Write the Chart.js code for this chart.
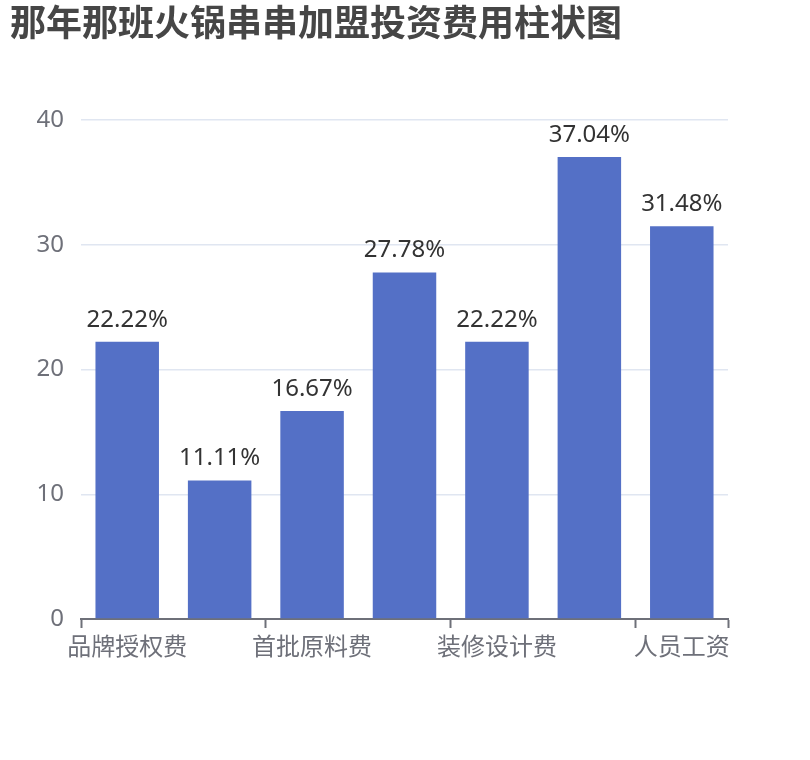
<!DOCTYPE html>
<html>
<head>
<meta charset="utf-8">
<script src="https://cdn.jsdelivr.net/npm/chart.js@4/dist/chart.umd.min.js"></script>
<style>
  html, body { margin: 0; padding: 0; background: #ffffff; }
  #wrap { width: 810px; height: 760px; position: relative; }
</style>
</head>
<body>
<div id="wrap"><canvas id="c" width="810" height="760"></canvas></div>
<script>
// ---- data ----
const chartTitle = '那年那班火锅串串加盟投资费用柱状图';
const categories = ['品牌授权费', '设备采购费', '首批原料费', '店面租金', '装修设计费', '流动资金', '人员工资'];
const values = [22.22, 11.11, 16.67, 27.78, 22.22, 37.04, 31.48];
const yTicks = [0, 10, 20, 30, 40];

const FONT = '"Noto Sans", "Noto Sans CJK SC", sans-serif';
const CJK = '"Noto Sans CJK SC", "Noto Sans", sans-serif';

const titlePlugin = {
  id: 'titleDraw',
  afterDraw(chart) {
    const ctx = chart.ctx;
    ctx.save();
    ctx.font = 'bold 36px ' + CJK;
    ctx.fillStyle = '#464646';
    ctx.textAlign = 'left';
    ctx.textBaseline = 'middle';
    ctx.fillText(chartTitle, 10, 22);
    ctx.restore();
  }
};

const labelPlugin = {
  id: 'barLabels',
  afterDatasetsDraw(chart) {
    const ctx = chart.ctx;
    const meta = chart.getDatasetMeta(0);
    ctx.save();
    ctx.font = '24px ' + FONT;
    ctx.fillStyle = '#333333';
    ctx.textAlign = 'center';
    ctx.textBaseline = 'alphabetic';
    meta.data.forEach((bar, i) => {
      ctx.fillText(values[i].toFixed(2) + '%', bar.x, bar.y - 15);
    });
    ctx.restore();
  }
};

new Chart(document.getElementById('c'), {
  type: 'bar',
  data: {
    labels: categories,
    datasets: [{
      data: values,
      backgroundColor: '#5470c6',
      borderWidth: 0,
      barPercentage: 0.687,
      categoryPercentage: 1.0
    }]
  },
  options: {
    responsive: false,
    devicePixelRatio: 1,
    animation: false,
    layout: { padding: { top: 120, right: 82, bottom: 0, left: 0 } },
    plugins: {
      legend: { display: false },
      tooltip: { enabled: false },
      title: { display: false }
    },
    scales: {
      x: {
        offset: true,
        afterFit(scale) { scale.height = 141; },
        border: { display: true, color: '#6E7079', width: 2 },
        grid: {
          display: true,
          offset: true,
          drawOnChartArea: false,
          drawTicks: true,
          tickLength: 9,
          tickWidth: 2,
          color: (c) => (c.index === undefined || c.index % 2 === 0) ? '#6E7079' : 'rgba(0,0,0,0)',
          tickColor: (c) => (c.index === undefined || c.index % 2 === 0) ? '#6E7079' : 'rgba(0,0,0,0)'
        },
        ticks: {
          autoSkip: false,
          maxRotation: 0,
          minRotation: 0,
          padding: 3,
          color: '#6E7079',
          font: { size: 24, family: CJK },
          callback: (v, i) => (i % 2 === 0 ? categories[i] : '')
        }
      },
      y: {
        min: yTicks[0],
        max: yTicks[yTicks.length - 1],
        afterFit(scale) { scale.width = 81; },
        border: { display: false },
        grid: { color: '#E0E6F1', lineWidth: 1.5, drawTicks: false },
        ticks: {
          stepSize: 10,
          padding: 17,
          color: '#6E7079',
          font: { size: 24, family: FONT }
        },
        afterBuildTicks(scale) { scale.ticks = yTicks.map(v => ({ value: v })); }
      }
    }
  },
  plugins: [titlePlugin, labelPlugin]
});
</script>
</body>
</html>
